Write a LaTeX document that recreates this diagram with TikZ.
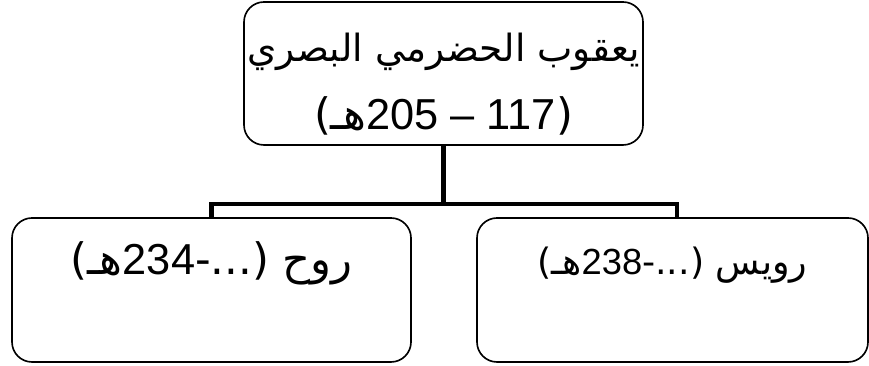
\documentclass[tikz,border=0pt]{standalone}
\usepackage{fontspec}
\setmainfont{Liberation Sans}
\newfontfamily\arabicfont[Script=Arabic]{DejaVu Sans}
\TeXXeTstate=1
\usetikzlibrary{positioning}
\tikzset{
  namebox/.style={draw, line width=1.4pt, rounded corners=0.6cm, align=center, inner sep=0pt},
  rawibox/.style={namebox, minimum height=4.32cm, text height=0.9cm, text depth=1.8cm},
  branch/.style={line width=4pt, line join=miter}
}

\begin{document}
\begin{tikzpicture}
  \useasboundingbox (0,0) rectangle (26.07,10.98);
  % Teacher
  \node[namebox, minimum width=11.97cm, minimum height=4.29cm,
        font=\fontsize{32}{58}\selectfont] (yaqub) at (13.305,8.775)
    {\rule{0pt}{1.5cm}\beginR{\arabicfont يعقوب الحضرمي البصري}\endR\\
     {\fontsize{37}{58}\selectfont\beginR{\arabicfont(}117 – 205{\arabicfont هـ)}\endR}};
  % Narrators
  \node[rawibox, minimum width=11.97cm,
        font=\fontsize{37}{50}\selectfont] (rawh) at (6.345,2.28)
    {\beginR{\arabicfont روح (...-}234{\arabicfont هـ)}\endR};
  \node[rawibox, minimum width=11.73cm,
        font=\fontsize{31}{50}\selectfont] (ruways) at (20.175,2.28)
    {\beginR{\arabicfont رويس (...-}238{\arabicfont هـ)}\endR};
  % Links
  \coordinate (bar) at (13.305,4.86);
  \draw[branch] (yaqub.south) -- (yaqub.south |- bar);
  \draw[branch] (rawh.north) |- (bar) -| ([xshift=0.13cm]ruways.north);
\end{tikzpicture}
\end{document}
